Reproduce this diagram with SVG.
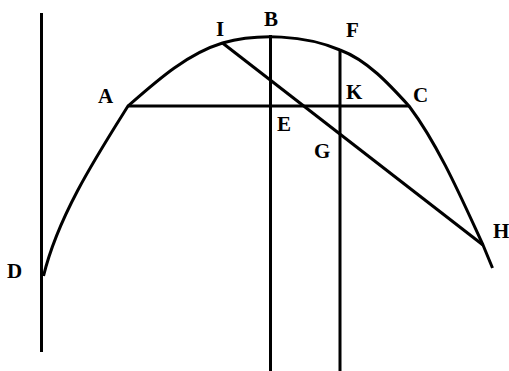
<svg xmlns="http://www.w3.org/2000/svg" width="509" height="371" viewBox="0 0 509 371">
<style>
.ln{stroke:#000;stroke-width:3;fill:none;stroke-linecap:butt;stroke-linejoin:round}
.lb{font-family:"Liberation Serif","Times New Roman",serif;font-weight:bold;font-size:21px;fill:#000}
</style>
<rect width="509" height="371" fill="#fff"/>
<g id="connectors">
<path id="curve" class="ln" d="M43.5,276 C58,216 96,157 128,106 C156.6,81 186.5,54 222.5,43 C258,33 305,35 340,50 C367,60 389,84 409,106 C439,146 462,199.5 483,245 L492.5,268"/>
<line id="axis-D" class="ln" x1="41.5" y1="13" x2="41.5" y2="352"/>
<line id="line-AC" class="ln" x1="128" y1="106" x2="409" y2="106"/>
<line id="line-BE" class="ln" x1="270.5" y1="35" x2="270.5" y2="371"/>
<line id="line-FG" class="ln" x1="340" y1="50" x2="340" y2="371"/>
<line id="line-IH" class="ln" x1="222.5" y1="43" x2="483" y2="245"/>
</g>
<g id="A"><text class="lb" x="98" y="103">A</text></g>
<g id="I"><text class="lb" x="216" y="36">I</text></g>
<g id="B"><text class="lb" x="264" y="26">B</text></g>
<g id="F"><text class="lb" x="346" y="37">F</text></g>
<g id="K"><text class="lb" x="346" y="99">K</text></g>
<g id="C"><text class="lb" x="413" y="101.5">C</text></g>
<g id="E"><text class="lb" x="277" y="131">E</text></g>
<g id="G"><text class="lb" x="314" y="158">G</text></g>
<g id="H"><text class="lb" x="493" y="238">H</text></g>
<g id="D"><text class="lb" x="7" y="278">D</text></g>
</svg>
